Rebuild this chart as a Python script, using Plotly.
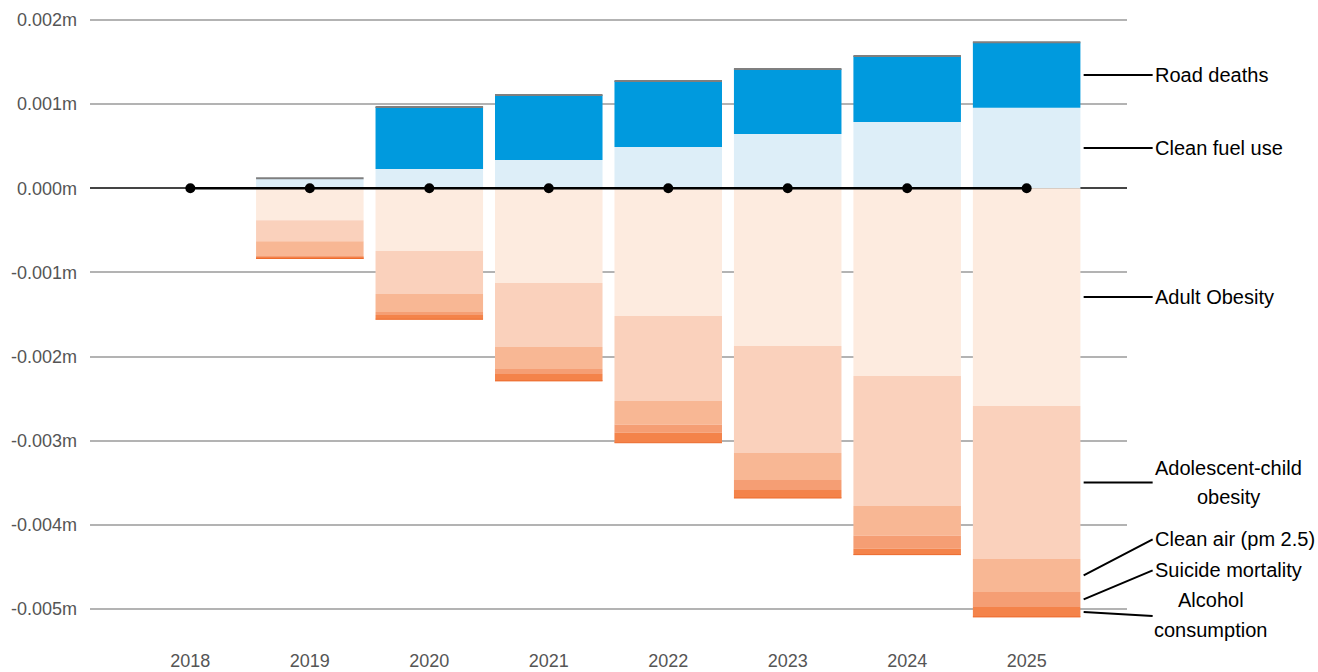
import plotly.graph_objects as go

# Yearly contributions (in millions), split into gains and losses
years = ["2018", "2019", "2020", "2021", "2022", "2023", "2024", "2025"]

clean_fuel_use = [0, 0.000120, 0.000230, 0.000336, 0.000491, 0.000645, 0.000788, 0.000958]
road_deaths = [0, 0.0, 0.000737, 0.000773, 0.000784, 0.000773, 0.000784, 0.000777]

adult_obesity = [0, -0.000380, -0.000745, -0.001125, -0.001518, -0.001874, -0.002230, -0.002587]
adolescent_child_obesity = [0, -0.000250, -0.000511, -0.000761, -0.001010, -0.001272, -0.001545, -0.001818]
clean_air_pm25 = [0, -0.000180, -0.000214, -0.000261, -0.000282, -0.000321, -0.000353, -0.000392]
suicide_mortality = [0, -0.000012, -0.000036, -0.000059, -0.000095, -0.000119, -0.000155, -0.000178]
alcohol_consumption = [0, -0.000012, -0.000051, -0.000083, -0.000119, -0.000095, -0.000071, -0.000119]

baseline = [0, 0, 0, 0, 0, 0, 0, 0]

y_ticks = [0.002, 0.001, 0.0, -0.001, -0.002, -0.003, -0.004, -0.005]
y_tick_text = ["0.002m", "0.001m", "0.000m", "-0.001m", "-0.002m", "-0.003m", "-0.004m", "-0.005m"]

series = [
    ("Clean fuel use", clean_fuel_use, "#DDEEF8"),
    ("Road deaths", road_deaths, "#009ADE"),
    ("Adult Obesity", adult_obesity, "#FDEBDF"),
    ("Adolescent-child obesity", adolescent_child_obesity, "#FAD1BC"),
    ("Clean air (pm 2.5)", clean_air_pm25, "#F8B794"),
    ("Suicide mortality", suicide_mortality, "#F59E74"),
    ("Alcohol consumption", alcohol_consumption, "#F4834A"),
]

BAR_W = 0.9
FONT = "Liberation Sans, Arial, sans-serif"

fig = go.Figure()
for name, vals, color in series:
    fig.add_bar(x=years, y=vals, name=name, width=BAR_W,
                marker=dict(color=color, line=dict(width=0)))

fig.add_scatter(x=years, y=baseline, mode="lines+markers",
                line=dict(color="black", width=2.5),
                marker=dict(color="black", size=10))

# thin caps on top of gains and bottom of losses
shapes = []
for i in range(len(years)):
    top = clean_fuel_use[i] + road_deaths[i]
    bottom = (adult_obesity[i] + adolescent_child_obesity[i] + clean_air_pm25[i]
              + suicide_mortality[i] + alcohol_consumption[i])
    if top > 0:
        shapes.append(dict(type="line", xref="x", yref="y",
                           x0=i - BAR_W / 2, x1=i + BAR_W / 2, y0=top, y1=top,
                           line=dict(color="#7f7f7f", width=2), layer="above"))
    if bottom < 0:
        shapes.append(dict(type="line", xref="x", yref="y",
                           x0=i - BAR_W / 2, x1=i + BAR_W / 2, y0=bottom, y1=bottom,
                           line=dict(color="#EC6A2C", width=1), layer="above"))

# series labels with leader lines at the last year:
# (lines of text, leader rise in px, per-line y offsets, centre x offset for stacked lines)
last = len(years) - 1
labels = {
    "Clean fuel use": (["Clean fuel use"], 0, None, None),
    "Road deaths": (["Road deaths"], 0, None, None),
    "Adult Obesity": (["Adult Obesity"], 0, None, None),
    "Adolescent-child obesity": (["Adolescent-child", "obesity"], 0, [14.5, -14.5], 202),
    "Clean air (pm 2.5)": (["Clean air (pm 2.5)"], -36, None, None),
    "Suicide mortality": (["Suicide mortality"], -29, None, None),
    "Alcohol consumption": (["Alcohol", "consumption"], 4, [12, -18], 184),
}
label_font = dict(family=FONT, size=20, color="black")
annotations = []
pos_base, neg_base = 0.0, 0.0
for name, vals, color in series:
    v = vals[last]
    if v >= 0:
        mid = pos_base + v / 2
        pos_base += v
    else:
        mid = neg_base + v / 2
        neg_base += v
    lines, dy, offsets, cx = labels[name]
    leader = dict(
        x=last, y=mid, xref="x", yref="y", xshift=57,
        showarrow=True, arrowhead=0, arrowwidth=2, arrowcolor="black",
        ax=69, ay=dy, axref="pixel", ayref="pixel", standoff=0, startstandoff=0,
        xanchor="left", yanchor="middle", font=label_font,
    )
    if len(lines) == 1:
        leader["text"] = lines[0]
        annotations.append(leader)
    else:
        leader["text"] = " "
        annotations.append(leader)
        for line, off in zip(lines, offsets):
            annotations.append(dict(
                x=last, y=mid, xref="x", yref="y", xshift=cx, yshift=off,
                text=line, showarrow=False, xanchor="center", yanchor="middle",
                font=label_font,
            ))

fig.update_layout(
    width=1318, height=672,
    margin=dict(l=90, r=191, t=10, b=24),
    paper_bgcolor="white", plot_bgcolor="white",
    barmode="relative", showlegend=False, hovermode=False,
    font=dict(family=FONT, size=18, color="#555555"),
    shapes=shapes, annotations=annotations,
    xaxis=dict(type="category", range=[-0.84, 7.84], showgrid=False, zeroline=False,
               showline=False, ticks="", automargin=False, ticklabelstandoff=0,
               tickfont=dict(size=18, color="#555555")),
    yaxis=dict(range=[-0.0054635, 0.0021188], tickvals=y_ticks, ticktext=y_tick_text,
               showgrid=True, gridcolor="#b3b3b3", gridwidth=2,
               zeroline=True, zerolinecolor="#444444", zerolinewidth=2,
               showline=False, ticks="", ticklabelstandoff=12, automargin=False,
               tickfont=dict(size=18, color="#555555")),
)

fig.write_html("out.html")
